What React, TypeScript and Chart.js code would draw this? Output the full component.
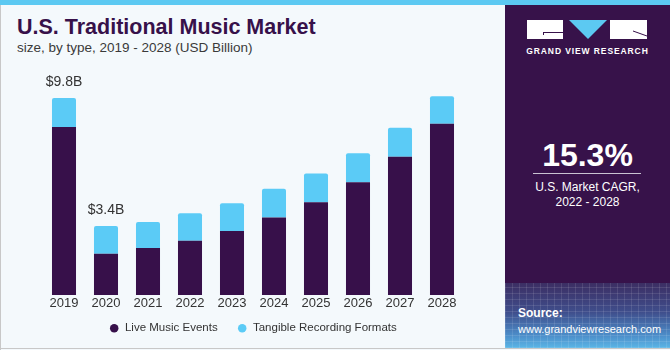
import React, { useEffect, useRef } from "react";
import { Chart, registerables } from "chart.js";

Chart.register(...registerables);

const years = ["2019", "2020", "2021", "2022", "2023", "2024", "2025", "2026", "2027", "2028"];
const liveMusicEvents = [8.36, 2.05, 2.34, 2.69, 3.18, 3.85, 4.61, 5.61, 6.88, 8.52];
const tangibleRecording = [1.44, 1.38, 1.29, 1.37, 1.38, 1.43, 1.44, 1.44, 1.44, 1.37];
const totalLabels = ["$9.8B", "$3.4B", "", "", "", "", "", "", "", ""];

const DARK = "#37104A";
const CYAN = "#5BCBF6";
const FONT = "'Liberation Sans', Arial, sans-serif";

const totalsPlugin = {
  id: "totals",
  afterDatasetsDraw(chart: any) {
    const { ctx, scales } = chart;
    ctx.save();
    ctx.font = `14px ${FONT}`;
    ctx.fillStyle = "#333333";
    ctx.textAlign = "center";
    ctx.textBaseline = "bottom";
    totalLabels.forEach((t, i) => {
      if (!t) return;
      const total = liveMusicEvents[i] + tangibleRecording[i];
      const x = scales.x.getPixelForValue(i);
      const y = scales.y.getPixelForValue(total);
      ctx.fillText(t, x, y - 9);
    });
    ctx.restore();
  },
};

export default function App() {
  const ref = useRef<HTMLCanvasElement | null>(null);

  useEffect(() => {
    if (!ref.current) return;
    const chart = new Chart(ref.current, {
      type: "bar",
      data: {
        labels: years,
        datasets: [
          {
            label: "Live Music Events",
            data: liveMusicEvents,
            backgroundColor: DARK,
            borderWidth: 0,
            categoryPercentage: 1,
            barPercentage: 0.572,
          },
          {
            label: "Tangible Recording Formats",
            data: tangibleRecording,
            backgroundColor: CYAN,
            borderWidth: 0,
            borderRadius: { topLeft: 2, topRight: 2, bottomLeft: 0, bottomRight: 0 },
            borderSkipped: false,
            categoryPercentage: 1,
            barPercentage: 0.572,
          },
        ],
      },
      options: {
        responsive: false,
        animation: false,
        layout: { padding: { left: 43, right: 42, top: 84, bottom: 6 } },
        scales: {
          x: {
            stacked: true,
            grid: { display: false, drawTicks: false },
            border: { display: false },
            ticks: { color: "#333333", font: { family: FONT, size: 13 }, padding: 1 },
          },
          y: {
            stacked: true,
            display: false,
            min: 0,
            max: 10.5,
          },
        },
        plugins: {
          legend: {
            position: "bottom",
            labels: {
              usePointStyle: true,
              pointStyle: "circle",
              boxWidth: 10,
              boxHeight: 6,
              padding: 10,
              color: "#333333",
              font: { family: FONT, size: 11.5 },
              generateLabels: (c: any) => {
                const items = Chart.defaults.plugins.legend.labels.generateLabels(c);
                return items.map((it: any, i: number) =>
                  i < items.length - 1 ? { ...it, text: it.text + "   " } : it
                );
              },
            },
          },
          tooltip: { enabled: false },
        },
      },
      plugins: [totalsPlugin],
    });
    return () => chart.destroy();
  }, []);

  return (
    <div
      style={{
        position: "absolute",
        left: 0,
        top: 0,
        width: 670,
        height: 350,
        background: "#F4F9FC",
        overflow: "hidden",
        fontFamily: FONT,
      }}
    >
      <div style={{ position: "absolute", left: 0, top: 0, width: 670, height: 5, background: "#5CC9F2" }} />
      <div style={{ position: "absolute", left: 0, top: 5, width: 1, height: 345, background: "#C8C8C8" }} />
      <div style={{ position: "absolute", left: 0, top: 348, width: 670, height: 1, background: "#C8C8C8" }} />
      <div
        style={{
          position: "absolute",
          left: 17,
          top: 14,
          fontSize: 21.5,
          fontWeight: 700,
          color: "#37114A",
          whiteSpace: "nowrap",
          lineHeight: "26px",
        }}
      >
        U.S. Traditional Music Market
      </div>
      <div
        style={{
          position: "absolute",
          left: 17,
          top: 40,
          fontSize: 13.5,
          color: "#3a3a3a",
          whiteSpace: "nowrap",
          lineHeight: "16px",
        }}
      >
        size, by type, 2019 - 2028 (USD Billion)
      </div>
      <canvas ref={ref} width={505} height={350} style={{ position: "absolute", left: 0, top: 0, width: 505, height: 350 }} />
      <div
        style={{
          position: "absolute",
          left: 505,
          top: 5,
          width: 165,
          height: 343,
          background: "#37124A",
          overflow: "hidden",
        }}
      >
        <svg width={165} height={60} style={{ position: "absolute", left: 0, top: 0 }}>
          <rect x={22} y={15} width={36} height={19} fill="#ffffff" />
          <line x1={38} y1={27.5} x2={58} y2={27.5} stroke="#37124A" strokeWidth={1} />
          <line x1={38.5} y1={27.5} x2={38.5} y2={30} stroke="#37124A" strokeWidth={1} />
          <polygon points="64,15 102,15 83,34" fill="#5CC9F2" />
          <rect x={105} y={15} width={37} height={19} fill="#ffffff" />
          <line x1={128} y1={26} x2={142} y2={31} stroke="#37124A" strokeWidth={1} />
        </svg>
        <div
          style={{
            position: "absolute",
            left: 0,
            width: 165,
            top: 41,
            textAlign: "center",
            color: "#ffffff",
            fontSize: 8.5,
            fontWeight: 700,
            letterSpacing: 0.9,
            lineHeight: "10px",
            whiteSpace: "nowrap",
          }}
        >
          GRAND VIEW RESEARCH
        </div>
        <div
          style={{
            position: "absolute",
            left: 0,
            width: 165,
            top: 133,
            textAlign: "center",
            color: "#ffffff",
            fontSize: 32,
            fontWeight: 700,
            lineHeight: "34px",
          }}
        >
          15.3%
        </div>
        <div style={{ position: "absolute", left: 28, top: 168, width: 108, height: 1, background: "#C9C3D2" }} />
        <div
          style={{
            position: "absolute",
            left: 0,
            width: 165,
            top: 175,
            textAlign: "center",
            color: "#ffffff",
            fontSize: 12,
            lineHeight: "15px",
          }}
        >
          U.S. Market CAGR,
          <br />
          2022 - 2028
        </div>
        <div
          style={{
            position: "absolute",
            left: 0,
            top: 278,
            width: 165,
            height: 65,
            background: "linear-gradient(to bottom, #3C2E63 0%, #3F4E8C 45%, #4C8CC8 80%, #5AB6E6 100%)",
          }}
        />
        <div
          style={{
            position: "absolute",
            left: 0,
            top: 278,
            width: 165,
            height: 65,
            backgroundImage:
              "repeating-linear-gradient(90deg, rgba(255,255,255,0.10) 0px, rgba(255,255,255,0.10) 1px, transparent 1px, transparent 7px), repeating-linear-gradient(0deg, rgba(255,255,255,0.10) 0px, rgba(255,255,255,0.10) 1px, transparent 1px, transparent 6px)",
          }}
        />
        <div
          style={{
            position: "absolute",
            left: 13,
            top: 301,
            color: "#ffffff",
            fontSize: 12,
            fontWeight: 700,
            lineHeight: "15px",
          }}
        >
          Source:
        </div>
        <div
          style={{
            position: "absolute",
            left: 13,
            top: 317,
            color: "#ffffff",
            fontSize: 11,
            lineHeight: "14px",
            whiteSpace: "nowrap",
          }}
        >
          www.grandviewresearch.com
        </div>
      </div>
    </div>
  );
}
